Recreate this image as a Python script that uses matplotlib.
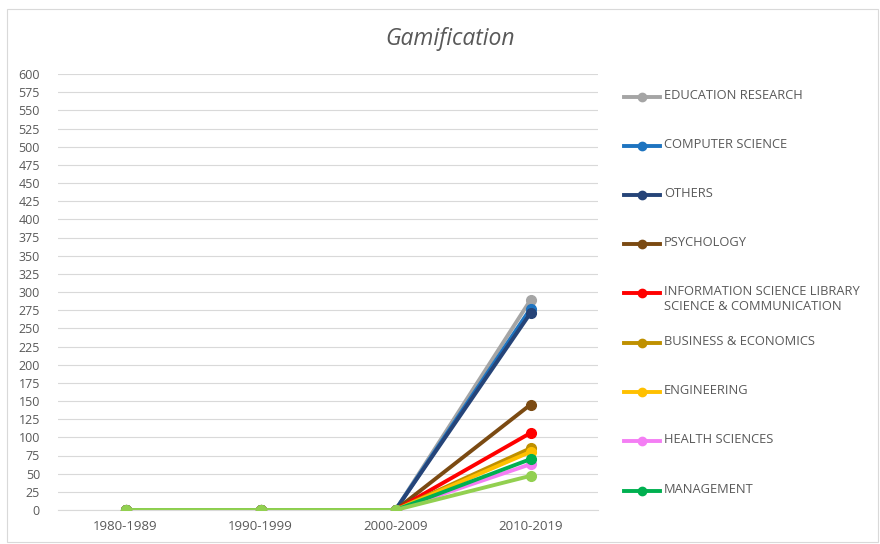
import matplotlib
matplotlib.use("Agg")
import matplotlib.pyplot as plt
from matplotlib.lines import Line2D
from matplotlib.patches import Rectangle

categories = ["1980-1989", "1990-1999", "2000-2009", "2010-2019"]

series_names = [
    "EDUCATION RESEARCH",
    "COMPUTER SCIENCE",
    "OTHERS",
    "PSYCHOLOGY",
    "INFORMATION SCIENCE LIBRARY\nSCIENCE & COMMUNICATION",
    "BUSINESS & ECONOMICS",
    "ENGINEERING",
    "HEALTH SCIENCES",
    "MANAGEMENT",
    "_unlisted",
]
education = [0, 0, 0, 289]
computer = [0, 0, 0, 277]
others = [0, 0, 0, 271]
psychology = [0, 0, 0, 145]
information = [0, 0, 0, 106]
business = [0, 0, 0, 85]
engineering = [0, 0, 0, 80]
health = [0, 0, 0, 63]
management = [0, 0, 0, 70]
unlisted = [0, 0, 0, 47]
series_values = [education, computer, others, psychology, information,
                 business, engineering, health, management, unlisted]
colors = ["#A5A5A5", "#1E74C0", "#264478", "#7B4A12", "#FF0000",
          "#BF9000", "#FFC000", "#F47EF4", "#00B050", "#92D050"]

yticks = list(range(0, 601, 25))

font = "Open Sans"
txtcol = "#595959"

fig = plt.figure(figsize=(8.8, 5.44), dpi=100)
fig.patches.append(Rectangle((0.008, 0.004), 0.99, 0.98, transform=fig.transFigure,
                             fill=False, edgecolor="#D9D9D9", linewidth=0.8))
ax = fig.add_axes([58 / 880, 34 / 544, 540 / 880, 436 / 544])

x = list(range(len(categories)))
for name, vals, c in zip(series_names, series_values, colors):
    ax.plot(x, vals, color=c, linewidth=2.8, marker="o", markersize=7,
            solid_capstyle="round", label=name)

ax.set_xlim(-0.5, len(categories) - 0.5)
ax.set_ylim(0, 600)
ax.set_yticks(yticks)
ax.set_yticklabels([str(v) for v in yticks], fontsize=9, color=txtcol, family=font)
ax.set_xticks(x)
ax.set_xticklabels(categories, fontsize=9.5, color=txtcol, family=font)
ax.tick_params(axis="y", length=0, pad=13)
ax.tick_params(axis="x", length=0, pad=7)
ax.grid(axis="y", color="#D9D9D9", linewidth=0.8)
ax.set_axisbelow(True)
for s in ["left", "right", "top"]:
    ax.spines[s].set_visible(False)
ax.spines["bottom"].set_color("#D9D9D9")
ax.spines["bottom"].set_zorder(0.5)

fig.text(450 / 880, 1 - 39 / 544, "Gamification", ha="center", va="center",
         fontsize=16.5, style="italic", color=txtcol, family=font)

# legend
leg_y = [97, 146, 195, 244, 293, 343, 392, 441, 491]
for name, c, yy in zip(series_names[:9], colors[:9], leg_y):
    yf = 1 - yy / 544
    fig.add_artist(Line2D([624 / 880, 660 / 880], [yf, yf], transform=fig.transFigure,
                          color=c, linewidth=2.8))
    fig.add_artist(Line2D([642 / 880], [yf], transform=fig.transFigure, color=c,
                          marker="o", markersize=6))
    fig.text(664 / 880, yf + 8 / 544, name, ha="left", va="top", fontsize=9.3,
             color=txtcol, family=font, linespacing=1.2)

fig.savefig("out.png", dpi=100)
